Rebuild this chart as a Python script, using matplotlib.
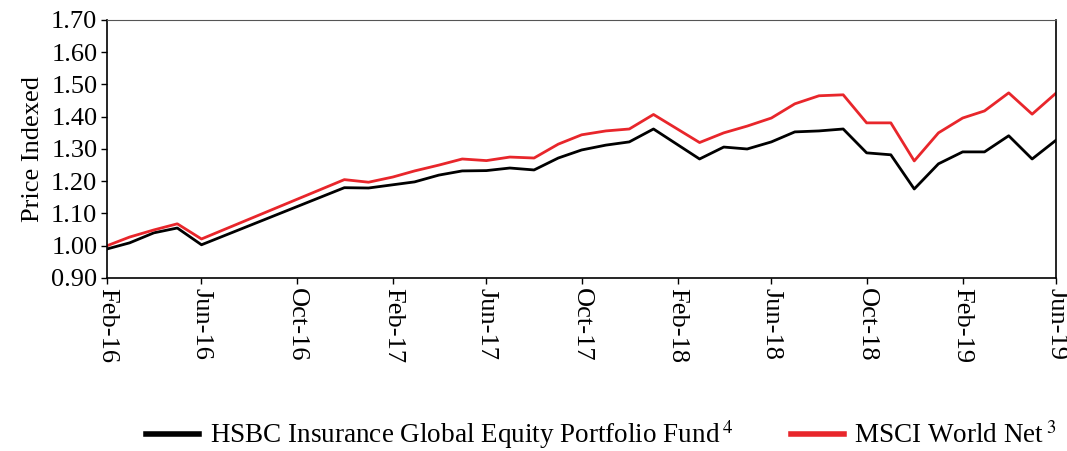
import matplotlib
matplotlib.use('Agg')
import matplotlib.pyplot as plt
import matplotlib.dates as mdates
import pandas as pd

# month-end points (only the visible vertices)
months = ['2016-02', '2016-03', '2016-04', '2016-05', '2016-06',
          '2016-12', '2017-01', '2017-02', '2017-03', '2017-04', '2017-05',
          '2017-06', '2017-07', '2017-08', '2017-09', '2017-10', '2017-11',
          '2017-12', '2018-01', '2018-03', '2018-04', '2018-05', '2018-06',
          '2018-07', '2018-08', '2018-09', '2018-10', '2018-11', '2018-12',
          '2019-01', '2019-02', '2019-03', '2019-04', '2019-05', '2019-06']
fund = [0.990, 1.009, 1.040, 1.055, 1.003,
        1.180, 1.179, 1.189, 1.198, 1.219, 1.232,
        1.233, 1.241, 1.235, 1.272, 1.297, 1.312,
        1.322, 1.362, 1.269, 1.306, 1.300, 1.322,
        1.353, 1.356, 1.362, 1.288, 1.282, 1.176,
        1.254, 1.291, 1.291, 1.341, 1.269, 1.328]
msci = [1.000, 1.027, 1.049, 1.068, 1.021,
        1.205, 1.197, 1.213, 1.232, 1.250, 1.269,
        1.264, 1.275, 1.272, 1.315, 1.344, 1.356,
        1.362, 1.407, 1.320, 1.350, 1.371, 1.396,
        1.440, 1.465, 1.468, 1.381, 1.381, 1.263,
        1.350, 1.396, 1.418, 1.474, 1.408, 1.474]
fund_label = 'HSBC Insurance Global Equity Portfolio Fund$^{\\;4}$'
msci_label = 'MSCI World Net$^{\\;3}$'

plt.rcParams['font.family'] = ['Liberation Serif', 'DejaVu Serif']
plt.rcParams['mathtext.fontset'] = 'stix'

dates = pd.to_datetime(months)

fig = plt.figure(figsize=(10.67, 4.51), dpi=100)
ax = fig.add_axes([0.1003, 0.3836, 0.8897, 0.5721])

ax.plot(dates, fund, color='black', lw=2, label=fund_label)
ax.plot(dates, msci, color='#e8262b', lw=2, label=msci_label)

ax.set_xlim(dates[0], dates[-1])
ax.set_ylim(0.9, 1.7)
ax.set_yticks([0.9 + 0.1 * i for i in range(9)])
ax.yaxis.set_major_formatter(plt.FormatStrFormatter('%.2f'))
ax.xaxis.set_major_locator(mdates.MonthLocator(bymonth=[2, 6, 10]))
ax.xaxis.set_major_formatter(mdates.DateFormatter('%b-%y'))
ax.tick_params(axis='both', labelsize=19, direction='out', length=4, width=1,
               pad=3)
ax.tick_params(axis='x', labelrotation=-90)
for lab in ax.get_xticklabels():
    lab.set_verticalalignment('top')
ax.set_ylabel('Price Indexed', fontsize=19, labelpad=5)

for side in ['left', 'bottom', 'right']:
    ax.spines[side].set_linewidth(1.2)
ax.spines['top'].set_linewidth(0.8)
ax.spines['top'].set_color('#555555')

fig.legend(loc='center', bbox_to_anchor=(0.564, 0.036), ncol=2, frameon=False,
           fontsize=19.5, handlelength=1.95, handletextpad=0.4,
           columnspacing=2.1, borderpad=0.2)
for line in fig.legends[0].get_lines():
    line.set_linewidth(4)

fig.savefig('out.png', dpi=100)
